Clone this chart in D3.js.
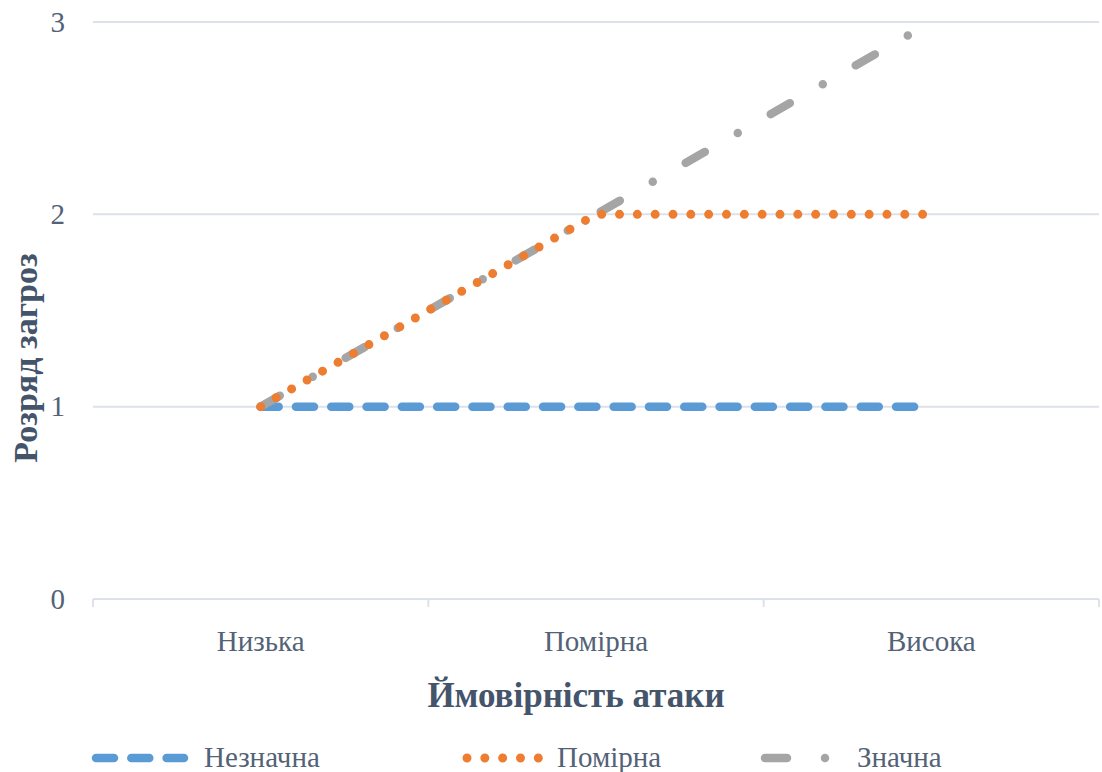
<!DOCTYPE html>
<html>
<head>
<meta charset="utf-8">
<script src="https://cdn.jsdelivr.net/npm/d3@7"></script>
<style>
  html, body { margin: 0; padding: 0; background: #ffffff; }
  svg { display: block; }
  text { font-family: "Liberation Serif", "Times New Roman", serif; }
</style>
</head>
<body>
<svg id="chart" width="1102" height="772"></svg>
<script>
const categories = ["Низька", "Помірна", "Висока"];
const seriesNames = ["Незначна", "Помірна", "Значна"];
const valuesNeznachna = [1, 1, 1];
const valuesPomirna = [1, 2, 2];
const valuesZnachna = [1, 2, 3];
const yTicks = [0, 1, 2, 3];
const xTitle = "Ймовірність атаки";
const yTitle = "Розряд загроз";

(function () {
const series = [
  { name: seriesNames[0], values: valuesNeznachna, color: "#5b9bd5", dash: "18 17.3", width: 8.5 },
  { name: seriesNames[1], values: valuesPomirna, color: "#ed7d31", dash: "0 17.83", width: 9 },
  { name: seriesNames[2], values: valuesZnachna, color: "#a5a5a5", dash: "22 38 0 38", width: 8.5 }
];
const drawOrder = [series[0], series[2], series[1]];

const svg = d3.select("#chart");
const mLeft = 93, mRight = 1099, mTop = 22, mBottom = 599;
const textColor = "#536276";
const titleColor = "#44546a";
const gridColor = "#dde2ea";
const serif = "'Liberation Serif', 'Times New Roman', serif";

const x = d3.scaleBand().domain(categories).range([mLeft, mRight]).paddingInner(0).paddingOuter(0);
const y = d3.scaleLinear().domain([0, 3]).range([mBottom, mTop]);

// gridlines
svg.append("g").selectAll("line").data(yTicks.filter(d => d > 0)).join("line")
  .attr("x1", mLeft).attr("x2", mRight)
  .attr("y1", d => y(d)).attr("y2", d => y(d))
  .attr("stroke", gridColor).attr("stroke-width", 2);

// y axis labels
const yAxis = d3.axisLeft(y).tickValues(yTicks).tickSize(0).tickPadding(28).tickFormat(d3.format("d"));
const gy = svg.append("g").attr("transform", `translate(${mLeft},0)`).call(yAxis);
gy.attr("font-family", null);
gy.select(".domain").remove();
gy.selectAll("text").attr("font-size", 29).attr("fill", textColor).style("font-family", serif);

// x axis
const xAxis = d3.axisBottom(x).tickSize(0).tickPadding(0);
const gx = svg.append("g").attr("transform", `translate(0,${mBottom})`).call(xAxis);
gx.attr("font-family", null);
gx.select(".domain").remove();
gx.selectAll("text").attr("font-size", 29).attr("fill", textColor).attr("dy", null)
  .attr("y", 52).style("font-family", serif);
svg.append("line").attr("x1", mLeft).attr("x2", mRight).attr("y1", mBottom).attr("y2", mBottom)
  .attr("stroke", gridColor).attr("stroke-width", 2);
const boundaries = categories.map(c => x(c)).concat([x(categories[categories.length - 1]) + x.bandwidth()]);
svg.append("g").selectAll("line").data(boundaries).join("line")
  .attr("x1", d => d).attr("x2", d => d).attr("y1", mBottom).attr("y2", mBottom + 8)
  .attr("stroke", gridColor).attr("stroke-width", 2);

// lines
const line = d3.line().x((d, i) => x(categories[i]) + x.bandwidth() / 2).y(d => y(d));
svg.append("g").selectAll("path").data(drawOrder).join("path")
  .attr("d", d => line(d.values))
  .attr("fill", "none")
  .attr("stroke", d => d.color)
  .attr("stroke-width", d => d.width)
  .attr("stroke-dasharray", d => d.dash)
  .attr("stroke-linecap", "round")
  .attr("stroke-linejoin", "round");

// axis titles
svg.append("text").attr("x", 576).attr("y", 707)
  .attr("text-anchor", "middle").attr("font-size", 35).attr("font-weight", "bold")
  .attr("fill", titleColor).style("font-family", serif).text(xTitle);
svg.append("text").attr("transform", `translate(37,358) rotate(-90)`)
  .attr("text-anchor", "middle").attr("font-size", 34).attr("font-weight", "bold")
  .attr("fill", titleColor).style("font-family", serif).text(yTitle);

// legend
const legPos = [
  { x0: 96, x1: 184, tx: 204 },
  { x0: 467, x1: 539, tx: 557 },
  { x0: 765, x1: 830, tx: 857 }
];
const lg = svg.append("g").selectAll("g").data(series).join("g");
lg.append("line")
  .attr("x1", (d, i) => legPos[i].x0).attr("x2", (d, i) => legPos[i].x1)
  .attr("y1", 758).attr("y2", 758)
  .attr("stroke", d => d.color).attr("stroke-width", d => d.width)
  .attr("stroke-dasharray", d => d.dash).attr("stroke-linecap", "round");
lg.append("text").attr("x", (d, i) => legPos[i].tx).attr("y", 767)
  .attr("font-size", 29).attr("fill", textColor).style("font-family", serif).text(d => d.name);
})();
</script>
</body>
</html>
